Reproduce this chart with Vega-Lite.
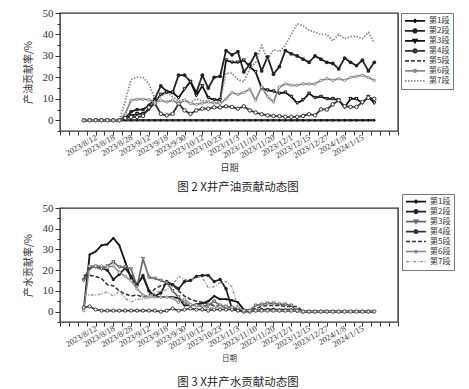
{
"$schema": "https://vega.github.io/schema/vega-lite/v6.json",
"background": "white",
"padding": {"left": 22, "top": 6, "right": 5, "bottom": 4},
"spacing": -3,
"config": {
  "font": "Liberation Serif",
  "view": {"stroke": "#333", "strokeWidth": 1.4},
  "axis": {"domain": false, "grid": false, "tickColor": "#333", "labelColor": "#333", "labelFont": "Liberation Serif", "titleFont": "Noto Sans CJK SC", "titleFontWeight": "normal", "titleColor": "#333"},
  "title": {"font": "Noto Sans CJK SC", "fontWeight": "normal", "color": "#222", "fontSize": 11.5}
},
"resolve": {
  "scale": {"x": "independent", "y": "independent", "stroke": "independent", "strokeDash": "independent", "strokeWidth": "independent"},
  "legend": {"stroke": "independent", "strokeDash": "independent"}
},
"datasets": {
"oil": [
{"s":"第1段","i":0,"v":0},{"s":"第1段","i":1,"v":0},{"s":"第1段","i":2,"v":0},{"s":"第1段","i":3,"v":0},{"s":"第1段","i":4,"v":0},{"s":"第1段","i":5,"v":0},{"s":"第1段","i":6,"v":0},{"s":"第1段","i":7,"v":0},{"s":"第1段","i":8,"v":0},{"s":"第1段","i":9,"v":0},
{"s":"第1段","i":10,"v":0},{"s":"第1段","i":11,"v":0},{"s":"第1段","i":12,"v":0},{"s":"第1段","i":13,"v":0},{"s":"第1段","i":14,"v":0},{"s":"第1段","i":15,"v":0},{"s":"第1段","i":16,"v":0},{"s":"第1段","i":17,"v":0},{"s":"第1段","i":18,"v":0},{"s":"第1段","i":19,"v":0},
{"s":"第1段","i":20,"v":0},{"s":"第1段","i":21,"v":0},{"s":"第1段","i":22,"v":0},{"s":"第1段","i":23,"v":0},{"s":"第1段","i":24,"v":0},{"s":"第1段","i":25,"v":0},{"s":"第1段","i":26,"v":0},{"s":"第1段","i":27,"v":0},{"s":"第1段","i":28,"v":0},{"s":"第1段","i":29,"v":0},
{"s":"第1段","i":30,"v":0},{"s":"第1段","i":31,"v":0},{"s":"第1段","i":32,"v":0},{"s":"第1段","i":33,"v":0},{"s":"第1段","i":34,"v":0},{"s":"第1段","i":35,"v":0},{"s":"第1段","i":36,"v":0},{"s":"第1段","i":37,"v":0},{"s":"第1段","i":38,"v":0},{"s":"第1段","i":39,"v":0},
{"s":"第1段","i":40,"v":0},{"s":"第1段","i":41,"v":0},{"s":"第1段","i":42,"v":0},{"s":"第1段","i":43,"v":0},{"s":"第1段","i":44,"v":0},{"s":"第1段","i":45,"v":0},{"s":"第1段","i":46,"v":0},{"s":"第1段","i":47,"v":0},{"s":"第1段","i":48,"v":0},{"s":"第1段","i":49,"v":0},
{"s":"第2段","i":0,"v":0},{"s":"第2段","i":1,"v":0},{"s":"第2段","i":2,"v":0},{"s":"第2段","i":3,"v":0},{"s":"第2段","i":4,"v":0},{"s":"第2段","i":5,"v":0},{"s":"第2段","i":6,"v":0},{"s":"第2段","i":7,"v":1},{"s":"第2段","i":8,"v":4},{"s":"第2段","i":9,"v":5},
{"s":"第2段","i":10,"v":5},{"s":"第2段","i":11,"v":7},{"s":"第2段","i":12,"v":10},{"s":"第2段","i":13,"v":16},{"s":"第2段","i":14,"v":13.5},{"s":"第2段","i":15,"v":13},{"s":"第2段","i":16,"v":21},{"s":"第2段","i":17,"v":21},{"s":"第2段","i":18,"v":18},{"s":"第2段","i":19,"v":13},
{"s":"第2段","i":20,"v":21},{"s":"第2段","i":21,"v":15},{"s":"第2段","i":22,"v":20},{"s":"第2段","i":23,"v":20.5},{"s":"第2段","i":24,"v":32.5},{"s":"第2段","i":25,"v":30.5},{"s":"第2段","i":26,"v":32},{"s":"第2段","i":27,"v":22.5},{"s":"第2段","i":28,"v":26},{"s":"第2段","i":29,"v":31},
{"s":"第2段","i":30,"v":23},{"s":"第2段","i":31,"v":29.5},{"s":"第2段","i":32,"v":21.5},{"s":"第2段","i":33,"v":25},{"s":"第2段","i":34,"v":32.5},{"s":"第2段","i":35,"v":31},{"s":"第2段","i":36,"v":30},{"s":"第2段","i":37,"v":28.5},{"s":"第2段","i":38,"v":27},{"s":"第2段","i":39,"v":30},
{"s":"第2段","i":40,"v":28.5},{"s":"第2段","i":41,"v":27},{"s":"第2段","i":42,"v":26.5},{"s":"第2段","i":43,"v":24},{"s":"第2段","i":44,"v":29},{"s":"第2段","i":45,"v":27},{"s":"第2段","i":46,"v":25.5},{"s":"第2段","i":47,"v":28},{"s":"第2段","i":48,"v":23},{"s":"第2段","i":49,"v":27},
{"s":"第3段","i":0,"v":0},{"s":"第3段","i":1,"v":0},{"s":"第3段","i":2,"v":0},{"s":"第3段","i":3,"v":0},{"s":"第3段","i":4,"v":0},{"s":"第3段","i":5,"v":0},{"s":"第3段","i":6,"v":0},{"s":"第3段","i":7,"v":1},{"s":"第3段","i":8,"v":2},{"s":"第3段","i":9,"v":3},
{"s":"第3段","i":10,"v":3},{"s":"第3段","i":11,"v":5},{"s":"第3段","i":12,"v":8.5},{"s":"第3段","i":13,"v":12},{"s":"第3段","i":14,"v":13},{"s":"第3段","i":15,"v":13},{"s":"第3段","i":16,"v":10.5},{"s":"第3段","i":17,"v":14.5},{"s":"第3段","i":18,"v":18},{"s":"第3段","i":19,"v":11.5},
{"s":"第3段","i":20,"v":16},{"s":"第3段","i":21,"v":10.5},{"s":"第3段","i":22,"v":9.5},{"s":"第3段","i":23,"v":9.5},{"s":"第3段","i":24,"v":28},{"s":"第3段","i":25,"v":27},{"s":"第3段","i":26,"v":27},{"s":"第3段","i":27,"v":28},{"s":"第3段","i":28,"v":25},{"s":"第3段","i":29,"v":22.5},
{"s":"第3段","i":30,"v":15},{"s":"第3段","i":31,"v":14},{"s":"第3段","i":32,"v":13.5},{"s":"第3段","i":33,"v":12.5},{"s":"第3段","i":34,"v":13},{"s":"第3段","i":35,"v":11},{"s":"第3段","i":36,"v":8},{"s":"第3段","i":37,"v":9.5},{"s":"第3段","i":38,"v":12.5},{"s":"第3段","i":39,"v":10.5},
{"s":"第3段","i":40,"v":11},{"s":"第3段","i":41,"v":10},{"s":"第3段","i":42,"v":10},{"s":"第3段","i":43,"v":9.5},{"s":"第3段","i":44,"v":6},{"s":"第3段","i":45,"v":10},{"s":"第3段","i":46,"v":10},{"s":"第3段","i":47,"v":8},{"s":"第3段","i":48,"v":11},{"s":"第3段","i":49,"v":8},
{"s":"第4段","i":0,"v":0},{"s":"第4段","i":1,"v":0},{"s":"第4段","i":2,"v":0},{"s":"第4段","i":3,"v":0},{"s":"第4段","i":4,"v":0},{"s":"第4段","i":5,"v":0},{"s":"第4段","i":6,"v":0},{"s":"第4段","i":7,"v":1},{"s":"第4段","i":8,"v":1.5},{"s":"第4段","i":9,"v":1.5},
{"s":"第4段","i":10,"v":2},{"s":"第4段","i":11,"v":6},{"s":"第4段","i":12,"v":7.8},{"s":"第4段","i":13,"v":3},{"s":"第4段","i":14,"v":2.3},{"s":"第4段","i":15,"v":3},{"s":"第4段","i":16,"v":7.8},{"s":"第4段","i":17,"v":4.6},{"s":"第4段","i":18,"v":3},{"s":"第4段","i":19,"v":4.6},
{"s":"第4段","i":20,"v":5.4},{"s":"第4段","i":21,"v":5.4},{"s":"第4段","i":22,"v":6},{"s":"第4段","i":23,"v":6},{"s":"第4段","i":24,"v":6.5},{"s":"第4段","i":25,"v":6.2},{"s":"第4段","i":26,"v":5.4},{"s":"第4段","i":27,"v":6.5},{"s":"第4段","i":28,"v":4.6},{"s":"第4段","i":29,"v":3.6},
{"s":"第4段","i":30,"v":2.8},{"s":"第4段","i":31,"v":2.3},{"s":"第4段","i":32,"v":2},{"s":"第4段","i":33,"v":1.9},{"s":"第4段","i":34,"v":1.6},{"s":"第4段","i":35,"v":1.6},{"s":"第4段","i":36,"v":1.6},{"s":"第4段","i":37,"v":2},{"s":"第4段","i":38,"v":2.8},{"s":"第4段","i":39,"v":2.3},
{"s":"第4段","i":40,"v":5.1},{"s":"第4段","i":41,"v":5},{"s":"第4段","i":42,"v":7.4},{"s":"第4段","i":43,"v":9.3},{"s":"第4段","i":44,"v":6.5},{"s":"第4段","i":45,"v":6.2},{"s":"第4段","i":46,"v":6.2},{"s":"第4段","i":47,"v":8.5},{"s":"第4段","i":48,"v":10.5},{"s":"第4段","i":49,"v":10},
{"s":"第5段","i":0,"v":0},{"s":"第5段","i":1,"v":0},{"s":"第5段","i":2,"v":0},{"s":"第5段","i":3,"v":0},{"s":"第5段","i":4,"v":0},{"s":"第5段","i":5,"v":0},{"s":"第5段","i":6,"v":0},{"s":"第5段","i":7,"v":0},{"s":"第5段","i":8,"v":0},{"s":"第5段","i":9,"v":0},
{"s":"第5段","i":10,"v":0},{"s":"第5段","i":11,"v":0},{"s":"第5段","i":12,"v":0},{"s":"第5段","i":13,"v":0},{"s":"第5段","i":14,"v":0},{"s":"第5段","i":15,"v":0},{"s":"第5段","i":16,"v":0},{"s":"第5段","i":17,"v":0},{"s":"第5段","i":18,"v":0},{"s":"第5段","i":19,"v":0},
{"s":"第5段","i":20,"v":0},{"s":"第5段","i":21,"v":0},{"s":"第5段","i":22,"v":0},{"s":"第5段","i":23,"v":0},{"s":"第5段","i":24,"v":0},{"s":"第5段","i":25,"v":0},{"s":"第5段","i":26,"v":0},{"s":"第5段","i":27,"v":0},{"s":"第5段","i":28,"v":0},{"s":"第5段","i":29,"v":0},
{"s":"第5段","i":30,"v":0},{"s":"第5段","i":31,"v":0},{"s":"第5段","i":32,"v":0},{"s":"第5段","i":33,"v":0},{"s":"第5段","i":34,"v":0},{"s":"第5段","i":35,"v":0},{"s":"第5段","i":36,"v":0},{"s":"第5段","i":37,"v":0},{"s":"第5段","i":38,"v":0},{"s":"第5段","i":39,"v":0},
{"s":"第5段","i":40,"v":0},{"s":"第5段","i":41,"v":0},{"s":"第5段","i":42,"v":0},{"s":"第5段","i":43,"v":0},{"s":"第5段","i":44,"v":0},{"s":"第5段","i":45,"v":0},{"s":"第5段","i":46,"v":0},{"s":"第5段","i":47,"v":0},{"s":"第5段","i":48,"v":0},{"s":"第5段","i":49,"v":0},
{"s":"第6段","i":0,"v":0},{"s":"第6段","i":1,"v":0},{"s":"第6段","i":2,"v":0},{"s":"第6段","i":3,"v":0},{"s":"第6段","i":4,"v":0},{"s":"第6段","i":5,"v":0},{"s":"第6段","i":6,"v":0},{"s":"第6段","i":7,"v":3},{"s":"第6段","i":8,"v":9.3},{"s":"第6段","i":9,"v":9.8},
{"s":"第6段","i":10,"v":9.8},{"s":"第6段","i":11,"v":9.6},{"s":"第6段","i":12,"v":8.5},{"s":"第6段","i":13,"v":9.3},{"s":"第6段","i":14,"v":8.5},{"s":"第6段","i":15,"v":9.3},{"s":"第6段","i":16,"v":7.8},{"s":"第6段","i":17,"v":9.3},{"s":"第6段","i":18,"v":7.8},{"s":"第6段","i":19,"v":7.4},
{"s":"第6段","i":20,"v":8},{"s":"第6段","i":21,"v":8.5},{"s":"第6段","i":22,"v":8},{"s":"第6段","i":23,"v":7.8},{"s":"第6段","i":24,"v":10},{"s":"第6段","i":25,"v":13},{"s":"第6段","i":26,"v":12},{"s":"第6段","i":27,"v":13},{"s":"第6段","i":28,"v":14.5},{"s":"第6段","i":29,"v":9.3},
{"s":"第6段","i":30,"v":15.5},{"s":"第6段","i":31,"v":11},{"s":"第6段","i":32,"v":8.5},{"s":"第6段","i":33,"v":15.5},{"s":"第6段","i":34,"v":17},{"s":"第6段","i":35,"v":16.3},{"s":"第6段","i":36,"v":16.3},{"s":"第6段","i":37,"v":17},{"s":"第6段","i":38,"v":17},{"s":"第6段","i":39,"v":17},
{"s":"第6段","i":40,"v":18.6},{"s":"第6段","i":41,"v":19.4},{"s":"第6段","i":42,"v":18.6},{"s":"第6段","i":43,"v":19.4},{"s":"第6段","i":44,"v":18.6},{"s":"第6段","i":45,"v":20},{"s":"第6段","i":46,"v":20.5},{"s":"第6段","i":47,"v":21},{"s":"第6段","i":48,"v":20},{"s":"第6段","i":49,"v":18.6},
{"s":"第7段","i":0,"v":0},{"s":"第7段","i":1,"v":0},{"s":"第7段","i":2,"v":0},{"s":"第7段","i":3,"v":0},{"s":"第7段","i":4,"v":0},{"s":"第7段","i":5,"v":0},{"s":"第7段","i":6,"v":0},{"s":"第7段","i":7,"v":9},{"s":"第7段","i":8,"v":19},{"s":"第7段","i":9,"v":20},
{"s":"第7段","i":10,"v":20},{"s":"第7段","i":11,"v":17},{"s":"第7段","i":12,"v":10},{"s":"第7段","i":13,"v":11},{"s":"第7段","i":14,"v":13},{"s":"第7段","i":15,"v":11},{"s":"第7段","i":16,"v":9},{"s":"第7段","i":17,"v":10},{"s":"第7段","i":18,"v":8},{"s":"第7段","i":19,"v":10},
{"s":"第7段","i":20,"v":9},{"s":"第7段","i":21,"v":9},{"s":"第7段","i":22,"v":8},{"s":"第7段","i":23,"v":9},{"s":"第7段","i":24,"v":22},{"s":"第7段","i":25,"v":22},{"s":"第7段","i":26,"v":19},{"s":"第7段","i":27,"v":18},{"s":"第7段","i":28,"v":24},{"s":"第7段","i":29,"v":27},
{"s":"第7段","i":30,"v":35},{"s":"第7段","i":31,"v":28},{"s":"第7段","i":32,"v":33},{"s":"第7段","i":33,"v":32},{"s":"第7段","i":34,"v":35},{"s":"第7段","i":35,"v":40},{"s":"第7段","i":36,"v":45},{"s":"第7段","i":37,"v":44},{"s":"第7段","i":38,"v":42},{"s":"第7段","i":39,"v":41},
{"s":"第7段","i":40,"v":40},{"s":"第7段","i":41,"v":40},{"s":"第7段","i":42,"v":37},{"s":"第7段","i":43,"v":40},{"s":"第7段","i":44,"v":38},{"s":"第7段","i":45,"v":39},{"s":"第7段","i":46,"v":39},{"s":"第7段","i":47,"v":38},{"s":"第7段","i":48,"v":41},{"s":"第7段","i":49,"v":36}
],
"water": [
{"s":"第1段","i":0,"v":1},{"s":"第1段","i":1,"v":27.5},{"s":"第1段","i":2,"v":29},{"s":"第1段","i":3,"v":32},{"s":"第1段","i":4,"v":32.5},{"s":"第1段","i":5,"v":35.5},{"s":"第1段","i":6,"v":32},{"s":"第1段","i":7,"v":24},{"s":"第1段","i":8,"v":16},{"s":"第1段","i":9,"v":13},
{"s":"第1段","i":10,"v":17},{"s":"第1段","i":11,"v":10},{"s":"第1段","i":12,"v":7.5},{"s":"第1段","i":13,"v":7},{"s":"第1段","i":14,"v":7},{"s":"第1段","i":15,"v":7},{"s":"第1段","i":16,"v":6.5},{"s":"第1段","i":17,"v":3},{"s":"第1段","i":18,"v":3},{"s":"第1段","i":19,"v":3.5},
{"s":"第1段","i":20,"v":4},{"s":"第1段","i":21,"v":5},{"s":"第1段","i":22,"v":7.5},{"s":"第1段","i":23,"v":6},{"s":"第1段","i":24,"v":6},{"s":"第1段","i":25,"v":5.5},{"s":"第1段","i":26,"v":4.5},{"s":"第1段","i":27,"v":1},{"s":"第1段","i":28,"v":0.5},{"s":"第1段","i":29,"v":0.5},
{"s":"第1段","i":30,"v":0.5},{"s":"第1段","i":31,"v":1},{"s":"第1段","i":32,"v":1},{"s":"第1段","i":33,"v":1},{"s":"第1段","i":34,"v":1},{"s":"第1段","i":35,"v":1},{"s":"第1段","i":36,"v":1},{"s":"第1段","i":37,"v":0},{"s":"第1段","i":38,"v":0},{"s":"第1段","i":39,"v":0},
{"s":"第1段","i":40,"v":0},{"s":"第1段","i":41,"v":0},{"s":"第1段","i":42,"v":0},{"s":"第1段","i":43,"v":0},{"s":"第1段","i":44,"v":0},{"s":"第1段","i":45,"v":0},{"s":"第1段","i":46,"v":0},{"s":"第1段","i":47,"v":0},{"s":"第1段","i":48,"v":0},{"s":"第1段","i":49,"v":0},
{"s":"第2段","i":0,"v":15.5},{"s":"第2段","i":1,"v":21},{"s":"第2段","i":2,"v":22},{"s":"第2段","i":3,"v":21},{"s":"第2段","i":4,"v":20},{"s":"第2段","i":5,"v":15.5},{"s":"第2段","i":6,"v":18},{"s":"第2段","i":7,"v":21},{"s":"第2段","i":8,"v":17},{"s":"第2段","i":9,"v":13},
{"s":"第2段","i":10,"v":17.5},{"s":"第2段","i":11,"v":10},{"s":"第2段","i":12,"v":7.5},{"s":"第2段","i":13,"v":9},{"s":"第2段","i":14,"v":14.5},{"s":"第2段","i":15,"v":13},{"s":"第2段","i":16,"v":11},{"s":"第2段","i":17,"v":14.5},{"s":"第2段","i":18,"v":15},{"s":"第2段","i":19,"v":17},
{"s":"第2段","i":20,"v":17.5},{"s":"第2段","i":21,"v":17.5},{"s":"第2段","i":22,"v":14.5},{"s":"第2段","i":23,"v":15.5},{"s":"第2段","i":24,"v":11},{"s":"第2段","i":25,"v":1.5},{"s":"第2段","i":26,"v":1},{"s":"第2段","i":27,"v":0.5},{"s":"第2段","i":28,"v":0.5},{"s":"第2段","i":29,"v":0.5},
{"s":"第2段","i":30,"v":1},{"s":"第2段","i":31,"v":1},{"s":"第2段","i":32,"v":1},{"s":"第2段","i":33,"v":0.5},{"s":"第2段","i":34,"v":0.5},{"s":"第2段","i":35,"v":0.5},{"s":"第2段","i":36,"v":0.5},{"s":"第2段","i":37,"v":0},{"s":"第2段","i":38,"v":0},{"s":"第2段","i":39,"v":0},
{"s":"第2段","i":40,"v":0},{"s":"第2段","i":41,"v":0},{"s":"第2段","i":42,"v":0},{"s":"第2段","i":43,"v":0},{"s":"第2段","i":44,"v":0},{"s":"第2段","i":45,"v":0},{"s":"第2段","i":46,"v":0},{"s":"第2段","i":47,"v":0},{"s":"第2段","i":48,"v":0},{"s":"第2段","i":49,"v":0},
{"s":"第3段","i":0,"v":15},{"s":"第3段","i":1,"v":21.5},{"s":"第3段","i":2,"v":21.5},{"s":"第3段","i":3,"v":20.5},{"s":"第3段","i":4,"v":22},{"s":"第3段","i":5,"v":24},{"s":"第3段","i":6,"v":21.5},{"s":"第3段","i":7,"v":21.5},{"s":"第3段","i":8,"v":20.5},{"s":"第3段","i":9,"v":12},
{"s":"第3段","i":10,"v":25.5},{"s":"第3段","i":11,"v":16.5},{"s":"第3段","i":12,"v":16},{"s":"第3段","i":13,"v":15},{"s":"第3段","i":14,"v":14},{"s":"第3段","i":15,"v":10},{"s":"第3段","i":16,"v":7},{"s":"第3段","i":17,"v":4},{"s":"第3段","i":18,"v":3},{"s":"第3段","i":19,"v":3},
{"s":"第3段","i":20,"v":2.5},{"s":"第3段","i":21,"v":3},{"s":"第3段","i":22,"v":5},{"s":"第3段","i":23,"v":3},{"s":"第3段","i":24,"v":2.5},{"s":"第3段","i":25,"v":2},{"s":"第3段","i":26,"v":1.5},{"s":"第3段","i":27,"v":0.5},{"s":"第3段","i":28,"v":0.5},{"s":"第3段","i":29,"v":3},
{"s":"第3段","i":30,"v":3.5},{"s":"第3段","i":31,"v":4},{"s":"第3段","i":32,"v":4},{"s":"第3段","i":33,"v":3.5},{"s":"第3段","i":34,"v":3.5},{"s":"第3段","i":35,"v":3},{"s":"第3段","i":36,"v":0},{"s":"第3段","i":37,"v":0},{"s":"第3段","i":38,"v":0},{"s":"第3段","i":39,"v":0},
{"s":"第3段","i":40,"v":0},{"s":"第3段","i":41,"v":0},{"s":"第3段","i":42,"v":0},{"s":"第3段","i":43,"v":0},{"s":"第3段","i":44,"v":0},{"s":"第3段","i":45,"v":0},{"s":"第3段","i":46,"v":0},{"s":"第3段","i":47,"v":0},{"s":"第3段","i":48,"v":0},{"s":"第3段","i":49,"v":0},
{"s":"第4段","i":0,"v":2},{"s":"第4段","i":1,"v":2.5},{"s":"第4段","i":2,"v":1},{"s":"第4段","i":3,"v":0.5},{"s":"第4段","i":4,"v":0.5},{"s":"第4段","i":5,"v":0.5},{"s":"第4段","i":6,"v":0.5},{"s":"第4段","i":7,"v":0.5},{"s":"第4段","i":8,"v":0.5},{"s":"第4段","i":9,"v":0.5},
{"s":"第4段","i":10,"v":0.5},{"s":"第4段","i":11,"v":0.5},{"s":"第4段","i":12,"v":0.5},{"s":"第4段","i":13,"v":0},{"s":"第4段","i":14,"v":0.5},{"s":"第4段","i":15,"v":1.5},{"s":"第4段","i":16,"v":0.5},{"s":"第4段","i":17,"v":1},{"s":"第4段","i":18,"v":1.5},{"s":"第4段","i":19,"v":1},
{"s":"第4段","i":20,"v":1},{"s":"第4段","i":21,"v":0.5},{"s":"第4段","i":22,"v":1},{"s":"第4段","i":23,"v":1},{"s":"第4段","i":24,"v":1},{"s":"第4段","i":25,"v":1},{"s":"第4段","i":26,"v":0.5},{"s":"第4段","i":27,"v":0},{"s":"第4段","i":28,"v":0},{"s":"第4段","i":29,"v":0.5},
{"s":"第4段","i":30,"v":0.5},{"s":"第4段","i":31,"v":0.5},{"s":"第4段","i":32,"v":0.5},{"s":"第4段","i":33,"v":0.5},{"s":"第4段","i":34,"v":0.5},{"s":"第4段","i":35,"v":0.5},{"s":"第4段","i":36,"v":0.5},{"s":"第4段","i":37,"v":0},{"s":"第4段","i":38,"v":0},{"s":"第4段","i":39,"v":0},
{"s":"第4段","i":40,"v":0},{"s":"第4段","i":41,"v":0},{"s":"第4段","i":42,"v":0},{"s":"第4段","i":43,"v":0},{"s":"第4段","i":44,"v":0},{"s":"第4段","i":45,"v":0},{"s":"第4段","i":46,"v":0},{"s":"第4段","i":47,"v":0},{"s":"第4段","i":48,"v":0},{"s":"第4段","i":49,"v":0},
{"s":"第5段","i":0,"v":17.5},{"s":"第5段","i":1,"v":17.5},{"s":"第5段","i":2,"v":17},{"s":"第5段","i":3,"v":16},{"s":"第5段","i":4,"v":13},{"s":"第5段","i":5,"v":12.5},{"s":"第5段","i":6,"v":10},{"s":"第5段","i":7,"v":8.5},{"s":"第5段","i":8,"v":7.5},{"s":"第5段","i":9,"v":8},
{"s":"第5段","i":10,"v":7},{"s":"第5段","i":11,"v":8},{"s":"第5段","i":12,"v":11},{"s":"第5段","i":13,"v":12.5},{"s":"第5段","i":14,"v":13.5},{"s":"第5段","i":15,"v":13},{"s":"第5段","i":16,"v":10},{"s":"第5段","i":17,"v":7.5},{"s":"第5段","i":18,"v":6},{"s":"第5段","i":19,"v":5},
{"s":"第5段","i":20,"v":4.5},{"s":"第5段","i":21,"v":3.5},{"s":"第5段","i":22,"v":3},{"s":"第5段","i":23,"v":2.5},{"s":"第5段","i":24,"v":2},{"s":"第5段","i":25,"v":2},{"s":"第5段","i":26,"v":1.5},{"s":"第5段","i":27,"v":0.5},{"s":"第5段","i":28,"v":0.5},{"s":"第5段","i":29,"v":1.5},
{"s":"第5段","i":30,"v":2.5},{"s":"第5段","i":31,"v":3},{"s":"第5段","i":32,"v":3},{"s":"第5段","i":33,"v":3},{"s":"第5段","i":34,"v":2.5},{"s":"第5段","i":35,"v":2.5},{"s":"第5段","i":36,"v":2.5},{"s":"第5段","i":37,"v":0},{"s":"第5段","i":38,"v":0},{"s":"第5段","i":39,"v":0},
{"s":"第5段","i":40,"v":0},{"s":"第5段","i":41,"v":0},{"s":"第5段","i":42,"v":0},{"s":"第5段","i":43,"v":0},{"s":"第5段","i":44,"v":0},{"s":"第5段","i":45,"v":0},{"s":"第5段","i":46,"v":0},{"s":"第5段","i":47,"v":0},{"s":"第5段","i":48,"v":0},{"s":"第5段","i":49,"v":0},
{"s":"第6段","i":0,"v":0.5},{"s":"第6段","i":1,"v":22},{"s":"第6段","i":2,"v":22},{"s":"第6段","i":3,"v":22},{"s":"第6段","i":4,"v":21.5},{"s":"第6段","i":5,"v":22},{"s":"第6段","i":6,"v":19},{"s":"第6段","i":7,"v":17},{"s":"第6段","i":8,"v":15},{"s":"第6段","i":9,"v":11},
{"s":"第6段","i":10,"v":8},{"s":"第6段","i":11,"v":7},{"s":"第6段","i":12,"v":7},{"s":"第6段","i":13,"v":7},{"s":"第6段","i":14,"v":7},{"s":"第6段","i":15,"v":6.5},{"s":"第6段","i":16,"v":4.5},{"s":"第6段","i":17,"v":6},{"s":"第6段","i":18,"v":3.5},{"s":"第6段","i":19,"v":3},
{"s":"第6段","i":20,"v":3},{"s":"第6段","i":21,"v":1.5},{"s":"第6段","i":22,"v":2},{"s":"第6段","i":23,"v":2.5},{"s":"第6段","i":24,"v":2.5},{"s":"第6段","i":25,"v":2},{"s":"第6段","i":26,"v":2},{"s":"第6段","i":27,"v":0.5},{"s":"第6段","i":28,"v":0.5},{"s":"第6段","i":29,"v":0.5},
{"s":"第6段","i":30,"v":0.5},{"s":"第6段","i":31,"v":0.5},{"s":"第6段","i":32,"v":0.5},{"s":"第6段","i":33,"v":0.5},{"s":"第6段","i":34,"v":0.5},{"s":"第6段","i":35,"v":0.5},{"s":"第6段","i":36,"v":0.5},{"s":"第6段","i":37,"v":0},{"s":"第6段","i":38,"v":0},{"s":"第6段","i":39,"v":0},
{"s":"第6段","i":40,"v":0},{"s":"第6段","i":41,"v":0},{"s":"第6段","i":42,"v":0},{"s":"第6段","i":43,"v":0},{"s":"第6段","i":44,"v":0},{"s":"第6段","i":45,"v":0},{"s":"第6段","i":46,"v":0},{"s":"第6段","i":47,"v":0},{"s":"第6段","i":48,"v":0},{"s":"第6段","i":49,"v":0},
{"s":"第7段","i":0,"v":8},{"s":"第7段","i":1,"v":8},{"s":"第7段","i":2,"v":8},{"s":"第7段","i":3,"v":8.5},{"s":"第7段","i":4,"v":9.5},{"s":"第7段","i":5,"v":7.5},{"s":"第7段","i":6,"v":10},{"s":"第7段","i":7,"v":6.5},{"s":"第7段","i":8,"v":4.5},{"s":"第7段","i":9,"v":6},
{"s":"第7段","i":10,"v":6},{"s":"第7段","i":11,"v":7},{"s":"第7段","i":12,"v":9},{"s":"第7段","i":13,"v":10},{"s":"第7段","i":14,"v":10.5},{"s":"第7段","i":15,"v":13},{"s":"第7段","i":16,"v":17},{"s":"第7段","i":17,"v":15.5},{"s":"第7段","i":18,"v":15},{"s":"第7段","i":19,"v":17},
{"s":"第7段","i":20,"v":16.5},{"s":"第7段","i":21,"v":11.5},{"s":"第7段","i":22,"v":12},{"s":"第7段","i":23,"v":14},{"s":"第7段","i":24,"v":14.5},{"s":"第7段","i":25,"v":12},{"s":"第7段","i":26,"v":2},{"s":"第7段","i":27,"v":0.5},{"s":"第7段","i":28,"v":0.5},{"s":"第7段","i":29,"v":0.5},
{"s":"第7段","i":30,"v":0.5},{"s":"第7段","i":31,"v":0.5},{"s":"第7段","i":32,"v":0.5},{"s":"第7段","i":33,"v":0.5},{"s":"第7段","i":34,"v":0.5},{"s":"第7段","i":35,"v":0.5},{"s":"第7段","i":36,"v":0.5},{"s":"第7段","i":37,"v":0},{"s":"第7段","i":38,"v":0},{"s":"第7段","i":39,"v":0},
{"s":"第7段","i":40,"v":0},{"s":"第7段","i":41,"v":0},{"s":"第7段","i":42,"v":0},{"s":"第7段","i":43,"v":0},{"s":"第7段","i":44,"v":0},{"s":"第7段","i":45,"v":0},{"s":"第7段","i":46,"v":0},{"s":"第7段","i":47,"v":0},{"s":"第7段","i":48,"v":0},{"s":"第7段","i":49,"v":0}
]
},
"vconcat": [
{
  "width": 338, "height": 118,
  "data": {"name": "oil"},
  "title": {"text": "图 2 X井产油贡献动态图", "orient": "bottom", "anchor": "middle", "frame": "group", "dx": 9, "offset": 10},
  "encoding": {
    "x": {"field": "i", "type": "quantitative", "scale": {"domain": [-4, 53], "nice": false, "zero": false},
      "axis": {"title": "日期", "titleFontSize": 9, "titlePadding": 4,
        "values": [-4,-2.5,-1,0.5,2,3.5,5,6.5,8,9.5,11,12.5,14,15.5,17,18.5,20,21.5,23,24.5,26,27.5,29,30.5,32,33.5,35,36.5,38,39.5,41,42.5,44,45.5,47,48.5,50,51.5,53],
        "labelExpr": "(datum.value >= 2 && datum.value <= 47 && (datum.value - 2) % 3 == 0) ? ['2023/8/12','2023/8/18','2023/8/28','2023/9/12','2023/9/18','2023/9/30','2023/10/12','2023/10/23','2023/11/3','2023/11/10','2023/11/20','2023/12/1','2023/12/15','2023/12/27','2024/1/8','2024/1/15'][(datum.value - 2) / 3] : ''",
        "labelAngle": -30, "labelAlign": "right", "labelBaseline": "middle", "labelFontSize": 8.5, "labelPadding": 1, "labelOverlap": false, "labelBound": false, "tickSize": 4}},
    "y": {"field": "v", "type": "quantitative", "scale": {"domain": [-5, 50], "nice": false, "zero": false},
      "axis": {"title": "产油贡献率/%", "titleFontSize": 10, "titlePadding": 9,
        "values": [-5,0,5,10,15,20,25,30,35,40,45,50],
        "labelExpr": "datum.value % 10 == 0 ? datum.label : ''",
        "tickSize": {"condition": {"test": "datum.value % 10 == 0", "value": 5}, "value": 3},
        "labelFontSize": 11, "labelPadding": 2}}
  },
  "layer": [
    {"mark": {"type": "line", "strokeJoin": "round"},
     "encoding": {
       "stroke": {"field": "s", "type": "nominal", "scale": {"domain": ["第1段","第2段","第3段","第4段","第5段","第6段","第7段"], "range": ["#111","#222","#111","#333","#444","#8a8a8a","#8a8a8a"]},
         "legend": {"title": null, "orient": "right", "offset": 3, "strokeColor": "#777", "padding": 3, "symbolSize": 400, "clipHeight": 9.8, "rowPadding": 0, "labelFont": "Noto Sans CJK SC", "labelFontSize": 8, "labelColor": "#333", "labelOffset": 3,
           "encode": {"symbols": {"update": {
             "shape": {"signal": "['M-1,0H1M-0.12,0L0,-0.12L0.12,0L0,0.12Z','M-1,0H1M-0.17,0A0.17,0.17,0,1,0,0.17,0A0.17,0.17,0,1,0,-0.17,0Z','M-1,0H1M-0.17,-0.13L0.17,-0.13L0,0.16Z','M-1,0H1M-0.17,0A0.17,0.17,0,1,0,0.17,0A0.17,0.17,0,1,0,-0.17,0Z','M-1,0H1','M-1,0H1M-0.12,0A0.12,0.12,0,1,0,0.12,0A0.12,0.12,0,1,0,-0.12,0Z','M-1,0H1'][indexof(['第1段','第2段','第3段','第4段','第5段','第6段','第7段'], datum.value)]"},
             "size": {"value": 400},
             "fill": {"signal": "indexof(['第1段','第2段'], datum.value) >= 0 ? '#222' : 'white'"},
             "strokeWidth": {"signal": "indexof(['第1段','第2段','第3段'], datum.value) >= 0 ? 1.5 : 1"}}}}}},
       "strokeDash": {"field": "s", "type": "nominal", "scale": {"domain": ["第1段","第2段","第3段","第4段","第5段","第6段","第7段"], "range": [[1,0],[1,0],[1,0],[1,0],[4,2],[1,0],[1.5,1.5]]},
         "legend": {"title": null, "orient": "right", "offset": 3, "strokeColor": "#777", "padding": 3, "symbolSize": 400, "clipHeight": 9.8, "rowPadding": 0, "labelFont": "Noto Sans CJK SC", "labelFontSize": 8, "labelColor": "#333", "labelOffset": 3}},
       "strokeWidth": {"field": "s", "type": "nominal", "scale": {"domain": ["第1段","第2段","第3段","第4段","第5段","第6段","第7段"], "range": [1.8,1.8,1.6,1,1,1.2,1]}, "legend": null}
     }},
    {"transform": [{"filter": "datum.s === '第1段'"}], "mark": {"type": "point", "shape": "diamond", "size": 10, "filled": true, "color": "#111", "opacity": 1}},
    {"transform": [{"filter": "datum.s === '第2段'"}], "mark": {"type": "point", "shape": "circle", "size": 14, "filled": true, "color": "#222", "opacity": 1}},
    {"transform": [{"filter": "datum.s === '第3段'"}], "mark": {"type": "point", "shape": "triangle-down", "size": 10, "filled": true, "fill": "white", "stroke": "#111", "strokeWidth": 1, "opacity": 1}},
    {"transform": [{"filter": "datum.s === '第4段'"}], "mark": {"type": "point", "shape": "circle", "size": 12, "filled": true, "fill": "white", "stroke": "#333", "strokeWidth": 1, "opacity": 1}},
    {"transform": [{"filter": "datum.s === '第6段'"}], "mark": {"type": "point", "shape": "circle", "size": 6, "filled": true, "fill": "white", "stroke": "#8a8a8a", "strokeWidth": 1, "opacity": 1}}
  ]
},
{
  "width": 338, "height": 114,
  "data": {"name": "water"},
  "title": {"text": "图 3 X井产水贡献动态图", "orient": "bottom", "anchor": "middle", "frame": "group", "dx": 9, "offset": 15},
  "encoding": {
    "x": {"field": "i", "type": "quantitative", "scale": {"domain": [-4, 53], "nice": false, "zero": false},
      "axis": {"title": "日期", "titleFontSize": 7.5, "titlePadding": 4,
        "values": [-4,-2.5,-1,0.5,2,3.5,5,6.5,8,9.5,11,12.5,14,15.5,17,18.5,20,21.5,23,24.5,26,27.5,29,30.5,32,33.5,35,36.5,38,39.5,41,42.5,44,45.5,47,48.5,50,51.5,53],
        "labelExpr": "(datum.value >= 2 && datum.value <= 47 && (datum.value - 2) % 3 == 0) ? ['2023/8/12','2023/8/18','2023/8/28','2023/9/12','2023/9/18','2023/9/30','2023/10/12','2023/10/23','2023/11/3','2023/11/10','2023/11/20','2023/12/1','2023/12/15','2023/12/27','2024/1/8','2024/1/15'][(datum.value - 2) / 3] : ''",
        "labelAngle": -30, "labelAlign": "right", "labelBaseline": "middle", "labelFontSize": 8.5, "labelPadding": 1, "labelOverlap": false, "labelBound": false, "tickSize": 4}},
    "y": {"field": "v", "type": "quantitative", "scale": {"domain": [-5, 50], "nice": false, "zero": false},
      "axis": {"title": "产水贡献率/%", "titleFontSize": 10, "titlePadding": 9,
        "values": [-5,0,5,10,15,20,25,30,35,40,45,50],
        "labelExpr": "datum.value % 10 == 0 ? datum.label : ''",
        "tickSize": {"condition": {"test": "datum.value % 10 == 0", "value": 5}, "value": 3},
        "labelFontSize": 11, "labelPadding": 2}}
  },
  "layer": [
    {"mark": {"type": "line", "strokeJoin": "round"},
     "encoding": {
       "stroke": {"field": "s", "type": "nominal", "scale": {"domain": ["第1段","第2段","第3段","第4段","第5段","第6段","第7段"], "range": ["#111","#222","#666","#333","#333","#888","#999"]},
         "legend": {"title": null, "orient": "none", "legendX": 342, "legendY": -14, "strokeColor": "#777", "padding": 3, "symbolSize": 400, "clipHeight": 9.2, "rowPadding": 0, "labelFont": "Noto Sans CJK SC", "labelFontSize": 8, "labelColor": "#333", "labelOffset": 3,
           "encode": {"symbols": {"update": {
             "shape": {"signal": "['M-1,0H1M-0.12,0L0,-0.12L0.12,0L0,0.12Z','M-1,0H1M-0.17,0A0.17,0.17,0,1,0,0.17,0A0.17,0.17,0,1,0,-0.17,0Z','M-1,0H1M-0.17,-0.13L0.17,-0.13L0,0.16Z','M-1,0H1M-0.17,0A0.17,0.17,0,1,0,0.17,0A0.17,0.17,0,1,0,-0.17,0Z','M-1,0H1','M-1,0H1M-0.12,0A0.12,0.12,0,1,0,0.12,0A0.12,0.12,0,1,0,-0.12,0Z','M-1,0H1'][indexof(['第1段','第2段','第3段','第4段','第5段','第6段','第7段'], datum.value)]"},
             "size": {"value": 400},
             "fill": {"signal": "indexof(['第1段','第2段'], datum.value) >= 0 ? '#222' : 'white'"},
             "strokeWidth": {"signal": "indexof(['第1段','第2段','第3段'], datum.value) >= 0 ? 1.5 : 1"}}}}}},
       "strokeDash": {"field": "s", "type": "nominal", "scale": {"domain": ["第1段","第2段","第3段","第4段","第5段","第6段","第7段"], "range": [[1,0],[1,0],[1,0],[1,0],[4,2],[1,0],[3,1.5,1,1.5]]},
         "legend": {"title": null, "orient": "none", "legendX": 342, "legendY": -14, "strokeColor": "#777", "padding": 3, "symbolSize": 400, "clipHeight": 9.2, "rowPadding": 0, "labelFont": "Noto Sans CJK SC", "labelFontSize": 8, "labelColor": "#333", "labelOffset": 3}},
       "strokeWidth": {"field": "s", "type": "nominal", "scale": {"domain": ["第1段","第2段","第3段","第4段","第5段","第6段","第7段"], "range": [1.8,1.4,1.8,1,1,1,1]}, "legend": null}
     }},
    {"transform": [{"filter": "datum.s === '第1段'"}], "mark": {"type": "point", "shape": "diamond", "size": 8, "filled": true, "color": "#111", "opacity": 1}},
    {"transform": [{"filter": "datum.s === '第2段'"}], "mark": {"type": "point", "shape": "circle", "size": 12, "filled": true, "color": "#222", "opacity": 1}},
    {"transform": [{"filter": "datum.s === '第3段'"}], "mark": {"type": "point", "shape": "triangle-down", "size": 10, "filled": true, "fill": "white", "stroke": "#666", "strokeWidth": 1, "opacity": 1}},
    {"transform": [{"filter": "datum.s === '第4段'"}], "mark": {"type": "point", "shape": "circle", "size": 10, "filled": true, "fill": "white", "stroke": "#333", "strokeWidth": 1, "opacity": 1}},
    {"transform": [{"filter": "datum.s === '第6段'"}], "mark": {"type": "point", "shape": "circle", "size": 6, "filled": true, "fill": "white", "stroke": "#888", "strokeWidth": 1, "opacity": 1}}
  ]
}
]
}
